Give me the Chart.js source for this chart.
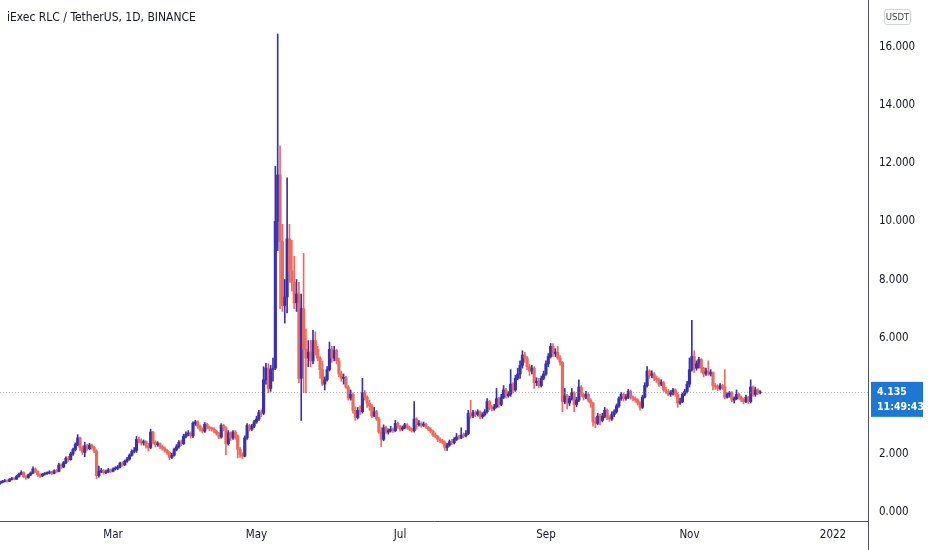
<!DOCTYPE html>
<html>
<head>
<meta charset="utf-8">
<script src="https://cdn.jsdelivr.net/npm/chart.js@4.4.0/dist/chart.umd.min.js"></script>
<style>
  body { margin: 0; background: #ffffff; }
  #wrap { position: relative; width: 932px; height: 550px; }
  #title {
    position: absolute; left: 7px; top: 9px;
    font: 12px "DejaVu Sans Condensed", "DejaVu Sans", sans-serif;
    color: #131722; line-height: 16px;
  }
  #unit {
    position: absolute; left: 884px; top: 9px; width: 25px; height: 14px;
    border: 1px solid #d1d4dc; border-radius: 3px;
    font: 9.5px "DejaVu Sans Condensed", "DejaVu Sans", sans-serif;
    color: #434651; line-height: 14px; text-align: center;
  }
</style>
</head>
<body>
<div id="wrap">
  <canvas id="chart" width="932" height="550"></canvas>
  <div id="title">iExec RLC / TetherUS, 1D, BINANCE</div>
  <div id="unit">USDT</div>
</div>
<script>
// day numbers counted from 1 Jan 2021, first bar = 12 Jan 2021
const firstDay = 11;
const firstOpen = 0.98;

const closes = [
  1.02, 1.05, 1.08, 1.06, 1.12, 1.15, 1.13, 1.22, 1.30, 1.36,
  1.22, 1.18, 1.28, 1.34, 1.48, 1.40, 1.28, 1.24, 1.30, 1.32,
  1.34, 1.38, 1.33, 1.42, 1.40, 1.62, 1.55, 1.70, 1.85, 1.80,
  2.00, 2.15, 2.32, 2.55, 2.22, 2.05, 2.28, 2.18, 2.30, 2.22,
  2.10, 1.25, 1.40, 1.42, 1.35, 1.38, 1.45, 1.40, 1.48, 1.50,
  1.55, 1.68, 1.62, 1.75, 1.82, 1.95, 2.08, 2.12, 2.50, 2.45,
  2.38, 2.42, 2.30, 2.22, 2.75, 2.40, 2.32, 2.35, 2.25, 2.20,
  2.12, 2.05, 1.88, 1.95, 2.15, 2.25, 2.40, 2.35, 2.60, 2.68,
  2.72, 2.62, 3.05, 3.10, 2.95, 2.85, 2.78, 3.02, 2.92, 2.88,
  2.85, 2.78, 2.70, 2.58, 2.98, 2.90, 2.35, 2.72, 2.55, 2.75,
  2.62, 2.15, 1.98, 1.92, 2.55, 2.98, 2.85, 2.95, 3.10, 3.20,
  3.42, 3.40, 4.55, 4.95, 4.25, 4.90, 4.95, 10.0, 11.6, 9.3,
  7.1, 7.4, 9.4, 8.3, 7.9, 7.2, 7.5, 4.6, 7.0, 5.6,
  5.3, 5.5, 5.2, 5.9, 5.6, 5.3, 4.9, 4.4, 4.55, 4.9,
  5.6, 5.3, 5.55, 5.2, 4.75, 4.6, 4.62, 4.3, 3.92, 4.05,
  3.5, 3.25, 3.5, 3.45, 4.1, 3.95, 3.75, 3.65, 3.3, 3.45,
  3.2, 2.75, 2.5, 2.9, 2.75, 2.8, 2.85, 2.8, 3.05, 2.95,
  2.85, 2.9, 3.0, 2.9, 2.85, 2.8, 3.2, 3.0, 3.05, 2.98,
  3.02, 2.92, 2.85, 2.78, 2.65, 2.6, 2.5, 2.45, 2.4, 2.22,
  2.3, 2.42, 2.38, 2.5, 2.58, 2.55, 2.65, 2.62, 2.7, 3.4,
  3.3, 3.42, 3.35, 3.45, 3.28, 3.35, 3.45, 3.8, 3.6, 3.55,
  3.62, 3.9, 3.7, 3.95, 4.2, 4.0, 4.05, 4.4, 4.2, 4.6,
  4.75, 5.05, 5.4, 5.3, 5.0, 4.85, 4.95, 4.45, 4.5, 4.35,
  4.6, 4.75, 5.1, 5.35, 5.7, 5.45, 5.5, 5.3, 5.15, 3.8,
  4.0, 3.75, 3.9, 4.1, 3.7, 3.85, 4.3, 4.05, 3.95, 4.05,
  3.85, 3.75, 3.1, 3.05, 3.3, 3.15, 3.3, 3.5, 3.25, 3.2,
  3.35, 3.45, 3.65, 3.9, 4.05, 3.9, 3.95, 4.15, 3.95, 3.9,
  3.85, 3.75, 3.6, 3.95, 4.35, 4.85, 4.7, 4.75, 4.6, 4.55,
  4.4, 4.45, 4.2, 4.15, 4.05, 4.1, 4.2, 4.05, 3.75, 3.8,
  4.05, 4.15, 4.4, 4.9, 5.35, 4.95, 5.1, 5.25, 4.95, 4.75,
  4.85, 4.75, 4.8, 4.35, 4.3, 4.25, 4.35, 4.3, 3.95, 4.05,
  4.1, 3.85, 3.9, 4.05, 3.95, 3.85, 3.8, 3.95, 3.8, 4.3,
  4.05, 4.2, 4.1, 4.135
];

const highs = [
  1.06, 1.09, 1.12, 1.11, 1.15, 1.19, 1.18, 1.26, 1.34, 1.42,
  1.39, 1.26, 1.31, 1.38, 1.55, 1.52, 1.42, 1.32, 1.33, 1.36,
  1.38, 1.42, 1.40, 1.45, 1.47, 1.68, 1.66, 1.74, 1.90, 1.92,
  2.06, 2.20, 2.38, 2.66, 2.58, 2.28, 2.40, 2.33, 2.36, 2.34,
  2.26, 2.14, 1.58, 1.50, 1.46, 1.44, 1.50, 1.48, 1.52, 1.56,
  1.60, 1.72, 1.73, 1.79, 1.88, 2.00, 2.14, 2.22, 2.60, 2.58,
  2.52, 2.48, 2.46, 2.36, 2.85, 2.78, 2.45, 2.42, 2.38, 2.30,
  2.24, 2.16, 2.08, 2.02, 2.20, 2.32, 2.46, 2.48, 2.68, 2.76,
  2.80, 2.76, 3.10, 3.16, 3.14, 3.00, 2.90, 3.08, 3.06, 2.96,
  2.92, 2.90, 2.82, 2.74, 3.04, 3.02, 2.94, 2.80, 2.76, 2.80,
  2.80, 2.66, 2.22, 2.04, 2.62, 3.04, 3.02, 3.02, 3.16, 3.30,
  3.50, 3.52, 5.00, 5.12, 5.10, 5.05, 5.30, 11.9, 16.45, 12.6,
  9.9, 8.0, 11.5, 9.9, 9.35, 8.8, 8.0, 7.9, 7.5, 8.9,
  6.3, 5.9, 5.9, 6.25, 6.2, 5.7, 5.35, 5.2, 4.65, 5.0,
  5.85, 5.7, 5.7, 5.6, 5.3, 4.85, 4.75, 4.68, 4.35, 4.2,
  4.1, 3.62, 3.6, 3.65, 4.6, 4.18, 4.0, 3.85, 3.7, 3.6,
  3.5, 3.27, 2.9, 3.0, 2.96, 2.86, 2.95, 2.9, 3.15, 3.1,
  2.98, 2.96, 3.05, 3.04, 2.95, 2.9, 3.8, 3.25, 3.15, 3.1,
  3.1, 3.06, 2.95, 2.9, 2.82, 2.72, 2.64, 2.55, 2.5, 2.45,
  2.36, 2.48, 2.5, 2.56, 2.7, 2.64, 2.9, 2.72, 2.8, 3.5,
  3.85, 3.5, 3.48, 3.52, 3.48, 3.42, 3.52, 3.9, 3.84, 3.66,
  3.7, 4.25, 3.95, 4.05, 4.35, 4.26, 4.14, 4.9, 4.45, 4.7,
  4.95, 5.2, 5.55, 5.5, 5.35, 5.08, 5.05, 5.0, 4.62, 4.6,
  4.68, 4.85, 5.2, 5.45, 5.8, 5.8, 5.62, 5.7, 5.38, 5.18,
  4.25, 4.05, 3.98, 4.25, 4.14, 3.95, 4.55, 4.35, 4.1, 4.15,
  4.1, 3.9, 3.78, 3.25, 3.4, 3.36, 3.4, 3.6, 3.55, 3.32,
  3.45, 3.52, 3.72, 3.96, 4.12, 4.1, 4.04, 4.22, 4.2, 4.0,
  3.96, 3.9, 3.8, 4.02, 4.45, 5.0, 4.9, 4.86, 4.8, 4.68,
  4.62, 4.55, 4.5, 4.3, 4.22, 4.18, 4.26, 4.24, 4.1, 3.92,
  4.1, 4.22, 4.5, 5.3, 6.6, 5.55, 5.2, 5.32, 5.28, 4.98,
  4.95, 5.2, 4.9, 4.82, 4.42, 4.38, 4.42, 4.4, 4.9, 4.1,
  4.15, 4.14, 3.96, 4.2, 4.08, 4.0, 3.92, 4.02, 3.98, 4.55,
  4.34, 4.3, 4.24, 4.18
];

const lows = [
  0.95, 1.00, 1.03, 1.03, 1.04, 1.10, 1.10, 1.12, 1.20, 1.28,
  1.18, 1.12, 1.16, 1.25, 1.32, 1.36, 1.22, 1.19, 1.22, 1.27,
  1.29, 1.31, 1.29, 1.31, 1.36, 1.38, 1.50, 1.52, 1.66, 1.74,
  1.78, 1.95, 2.10, 2.28, 2.12, 1.98, 1.90, 2.12, 2.14, 2.16,
  2.04, 1.15, 1.20, 1.35, 1.30, 1.32, 1.35, 1.36, 1.38, 1.44,
  1.46, 1.52, 1.58, 1.60, 1.71, 1.78, 1.92, 2.03, 2.05, 2.38,
  2.30, 2.30, 2.20, 2.10, 2.18, 2.34, 2.24, 2.26, 2.18, 2.12,
  2.06, 1.98, 1.80, 1.84, 1.92, 2.10, 2.20, 2.28, 2.32, 2.55,
  2.62, 2.54, 2.56, 2.98, 2.88, 2.78, 2.72, 2.74, 2.86, 2.80,
  2.78, 2.72, 2.64, 2.52, 2.54, 2.80, 1.96, 2.30, 2.46, 2.50,
  2.50, 1.86, 1.88, 1.84, 1.90, 2.50, 2.78, 2.80, 2.90, 3.05,
  3.15, 3.28, 3.35, 4.40, 4.10, 4.15, 4.50, 4.90, 9.0, 7.0,
  6.9, 6.5, 6.85, 7.9, 7.6, 7.0, 6.9, 4.45, 3.15, 4.1,
  4.1, 5.0, 5.0, 5.1, 5.4, 5.2, 4.6, 4.35, 4.2, 4.5,
  4.85, 5.15, 5.2, 5.1, 4.65, 4.5, 4.4, 4.25, 3.85, 3.85,
  3.4, 3.15, 3.2, 3.35, 3.4, 3.85, 3.6, 3.5, 3.25, 3.28,
  3.15, 2.7, 2.25, 2.45, 2.7, 2.68, 2.75, 2.74, 2.76, 2.88,
  2.78, 2.8, 2.86, 2.85, 2.8, 2.75, 2.75, 2.85, 2.95, 2.92,
  2.94, 2.88, 2.8, 2.72, 2.6, 2.55, 2.42, 2.38, 2.34, 2.12,
  2.12, 2.26, 2.32, 2.34, 2.46, 2.5, 2.52, 2.56, 2.58, 2.66,
  3.22, 3.25, 3.28, 3.3, 3.2, 3.22, 3.3, 3.4, 3.52, 3.48,
  3.5, 3.58, 3.6, 3.66, 3.9, 3.92, 3.95, 3.98, 4.1, 4.15,
  4.55, 4.6, 4.95, 5.15, 4.9, 4.7, 4.75, 4.25, 4.35, 4.28,
  4.3, 4.55, 4.7, 5.0, 5.3, 5.35, 5.35, 5.25, 5.05, 3.45,
  3.72, 3.55, 3.66, 3.85, 3.45, 3.62, 3.8, 3.98, 3.85, 3.9,
  3.78, 3.6, 2.95, 2.9, 3.0, 3.0, 3.1, 3.24, 3.18, 3.12,
  3.15, 3.28, 3.4, 3.6, 3.84, 3.82, 3.85, 3.9, 3.88, 3.82,
  3.78, 3.68, 3.5, 3.56, 3.92, 4.3, 4.6, 4.62, 4.52, 4.46,
  4.32, 4.35, 4.15, 4.08, 4.0, 3.98, 4.02, 3.98, 3.6, 3.7,
  3.76, 4.0, 4.1, 4.3, 4.85, 4.8, 4.88, 4.95, 4.8, 4.65,
  4.7, 4.7, 4.68, 4.2, 4.22, 4.18, 4.2, 4.22, 3.9, 3.92,
  3.95, 3.8, 3.75, 3.86, 3.88, 3.8, 3.72, 3.76, 3.72, 3.75,
  3.98, 3.98, 4.04, 4.06
];

const tickDays = [59, 120, 181, 243, 304, 365];
const tickLabels = ['Mar', 'May', 'Jul', 'Sep', 'Nov', '2022'];
const priceTicks = [0, 2, 4, 6, 8, 10, 12, 14, 16];
const lastPrice = 4.135;
const countdown = '11:49:43';

const upColor = '#3b30b2';
const downColor = '#ec6a5c';
const fontFamily = '"DejaVu Sans Condensed", "DejaVu Sans", sans-serif';
const axisFont = { family: fontFamily, size: 11.5 };

let opens = closes.map((c, i) => i === 0 ? firstOpen : closes[i - 1]);
let colors = closes.map((c, i) => c >= opens[i] ? upColor : downColor);

let wickData = closes.map((c, i) => ({ x: firstDay + i, y: [lows[i], highs[i]] }));
let bodyData = closes.map((c, i) => ({ x: firstDay + i, y: [opens[i], c] }));

// dotted last-price line, price badge, axis line continued below
const extras = {
  id: 'extras',
  afterDraw(chart) {
    const ctx = chart.ctx;
    const area = chart.chartArea;
    const y = chart.scales.y.getPixelForValue(lastPrice);
    ctx.save();
    ctx.strokeStyle = 'rgba(120,123,134,0.55)';
    ctx.lineWidth = 1;
    ctx.setLineDash([1, 2]);
    ctx.beginPath();
    ctx.moveTo(area.left, Math.round(y) + 0.5);
    ctx.lineTo(area.right, Math.round(y) + 0.5);
    ctx.stroke();
    ctx.setLineDash([]);

    ctx.strokeStyle = '#50535e';
    ctx.beginPath();
    ctx.moveTo(area.right + 0.5, area.bottom);
    ctx.lineTo(area.right + 0.5, chart.height);
    ctx.stroke();

    ctx.fillStyle = '#1e77d3';
    ctx.fillRect(area.right + 3, y - 10, 52, 35);
    ctx.fillStyle = '#ffffff';
    ctx.font = 'bold 10.5px ' + fontFamily;
    ctx.textBaseline = 'middle';
    ctx.textAlign = 'left';
    ctx.fillText(lastPrice.toFixed(3), area.right + 9, y);
    ctx.fillText(countdown, area.right + 9, y + 15);
    ctx.restore();
  }
};

new Chart(document.getElementById('chart'), {
  type: 'bar',
  data: {
    datasets: [
      {
        data: wickData,
        backgroundColor: colors,
        barThickness: 1,
        grouped: false
      },
      {
        data: bodyData,
        backgroundColor: colors,
        barThickness: 2.5,
        minBarLength: 1,
        grouped: false
      }
    ]
  },
  options: {
    responsive: false,
    animation: false,
    layout: { padding: 0 },
    plugins: {
      legend: { display: false },
      tooltip: { enabled: false }
    },
    scales: {
      x: {
        type: 'linear',
        min: 10.98,
        max: 379.87,
        offset: false,
        grid: { display: false, drawTicks: false },
        border: { color: '#50535e' },
        ticks: {
          color: '#131722',
          font: axisFont,
          padding: 7,
          maxRotation: 0,
          callback: (v) => tickLabels[tickDays.indexOf(v)]
        },
        afterBuildTicks: (s) => { s.ticks = tickDays.map(v => ({ value: v })); },
        afterFit: (s) => { s.height = 29; s.paddingLeft = 0; s.paddingRight = 0; }
      },
      y: {
        position: 'right',
        min: -0.31,
        max: 17.62,
        grid: { display: false, drawTicks: false },
        border: { color: '#50535e' },
        ticks: {
          color: '#131722',
          font: axisFont,
          padding: 11,
          crossAlign: 'near',
          callback: (v) => v.toFixed(3)
        },
        afterBuildTicks: (s) => { s.ticks = priceTicks.map(v => ({ value: v })); },
        afterFit: (s) => { s.width = 64; s.paddingTop = 0; s.paddingBottom = 0; }
      }
    }
  },
  plugins: [extras]
});
</script>
</body>
</html>
